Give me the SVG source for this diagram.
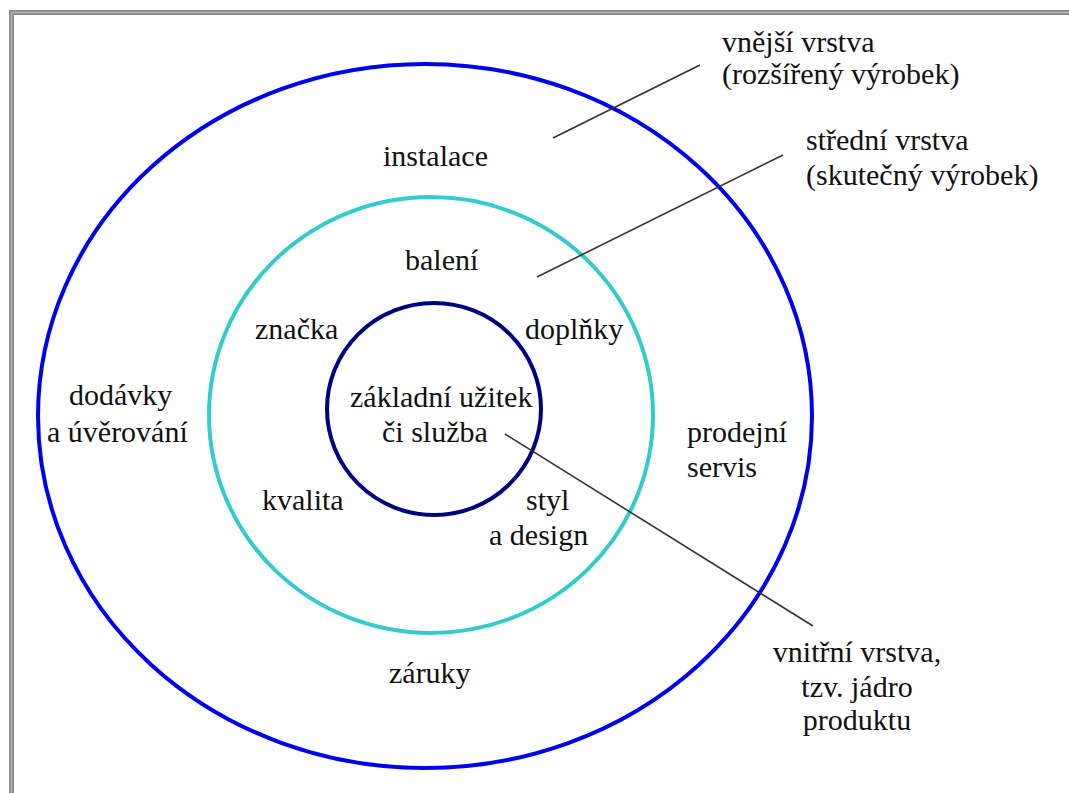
<svg xmlns="http://www.w3.org/2000/svg" width="1069" height="793" viewBox="0 0 1069 793">
<style>
text{font-family:"Liberation Serif","Times New Roman",serif;font-size:30px;fill:#111}
.ring{fill:none;stroke-width:4}
.lead{stroke:#333;stroke-width:1.6;fill:none}
</style>
<rect width="1069" height="793" fill="#fff"/>
<g id="frame">
<rect x="11.5" y="12.5" width="1100" height="900" fill="none" stroke="#888" stroke-width="5"/>
<rect x="11.5" y="12.5" width="1100" height="900" fill="none" stroke="#b4b4b4" stroke-width="1.5"/>
</g>
<g id="outer-layer">
<ellipse class="ring" cx="425" cy="416" rx="387" ry="352" stroke="#0000ee"/>
</g>
<g id="middle-layer">
<ellipse class="ring" cx="431" cy="415" rx="222" ry="218" stroke="#33cccc"/>
</g>
<g id="inner-layer">
<ellipse class="ring" cx="434" cy="409" rx="107" ry="106" stroke="#000080"/>
</g>
<g id="connectors">
<line class="lead" x1="553" y1="138" x2="700" y2="65"/>
<line class="lead" x1="537" y1="277" x2="783" y2="155"/>
<line class="lead" x1="505" y1="434" x2="813" y2="626"/>
</g>
<g id="label-outer"><text x="722" y="52">vnější vrstva</text><text x="722" y="84">(rozšířený výrobek)</text></g>
<g id="label-middle"><text x="806" y="150">střední vrstva</text><text x="806" y="185">(skutečný výrobek)</text></g>
<g id="label-inner" text-anchor="middle"><text x="857" y="662">vnitřní vrstva,</text><text x="857" y="697">tzv. jádro</text><text x="857" y="730">produktu</text></g>
<g id="instalace"><text x="383" y="166">instalace</text></g>
<g id="baleni"><text x="405" y="270">balení</text></g>
<g id="znacka"><text x="255" y="339">značka</text></g>
<g id="doplnky"><text x="525" y="339">doplňky</text></g>
<g id="core"><text x="350" y="407">základní užitek</text><text x="382" y="442">či služba</text></g>
<g id="dodavky"><text x="69" y="405">dodávky</text><text x="47" y="442">a úvěrování</text></g>
<g id="prodejni"><text x="687" y="442">prodejní</text><text x="687" y="477">servis</text></g>
<g id="kvalita"><text x="262" y="510">kvalita</text></g>
<g id="styl"><text x="526" y="510">styl</text><text x="489" y="545">a design</text></g>
<g id="zaruky"><text x="389" y="683">záruky</text></g>
</svg>
